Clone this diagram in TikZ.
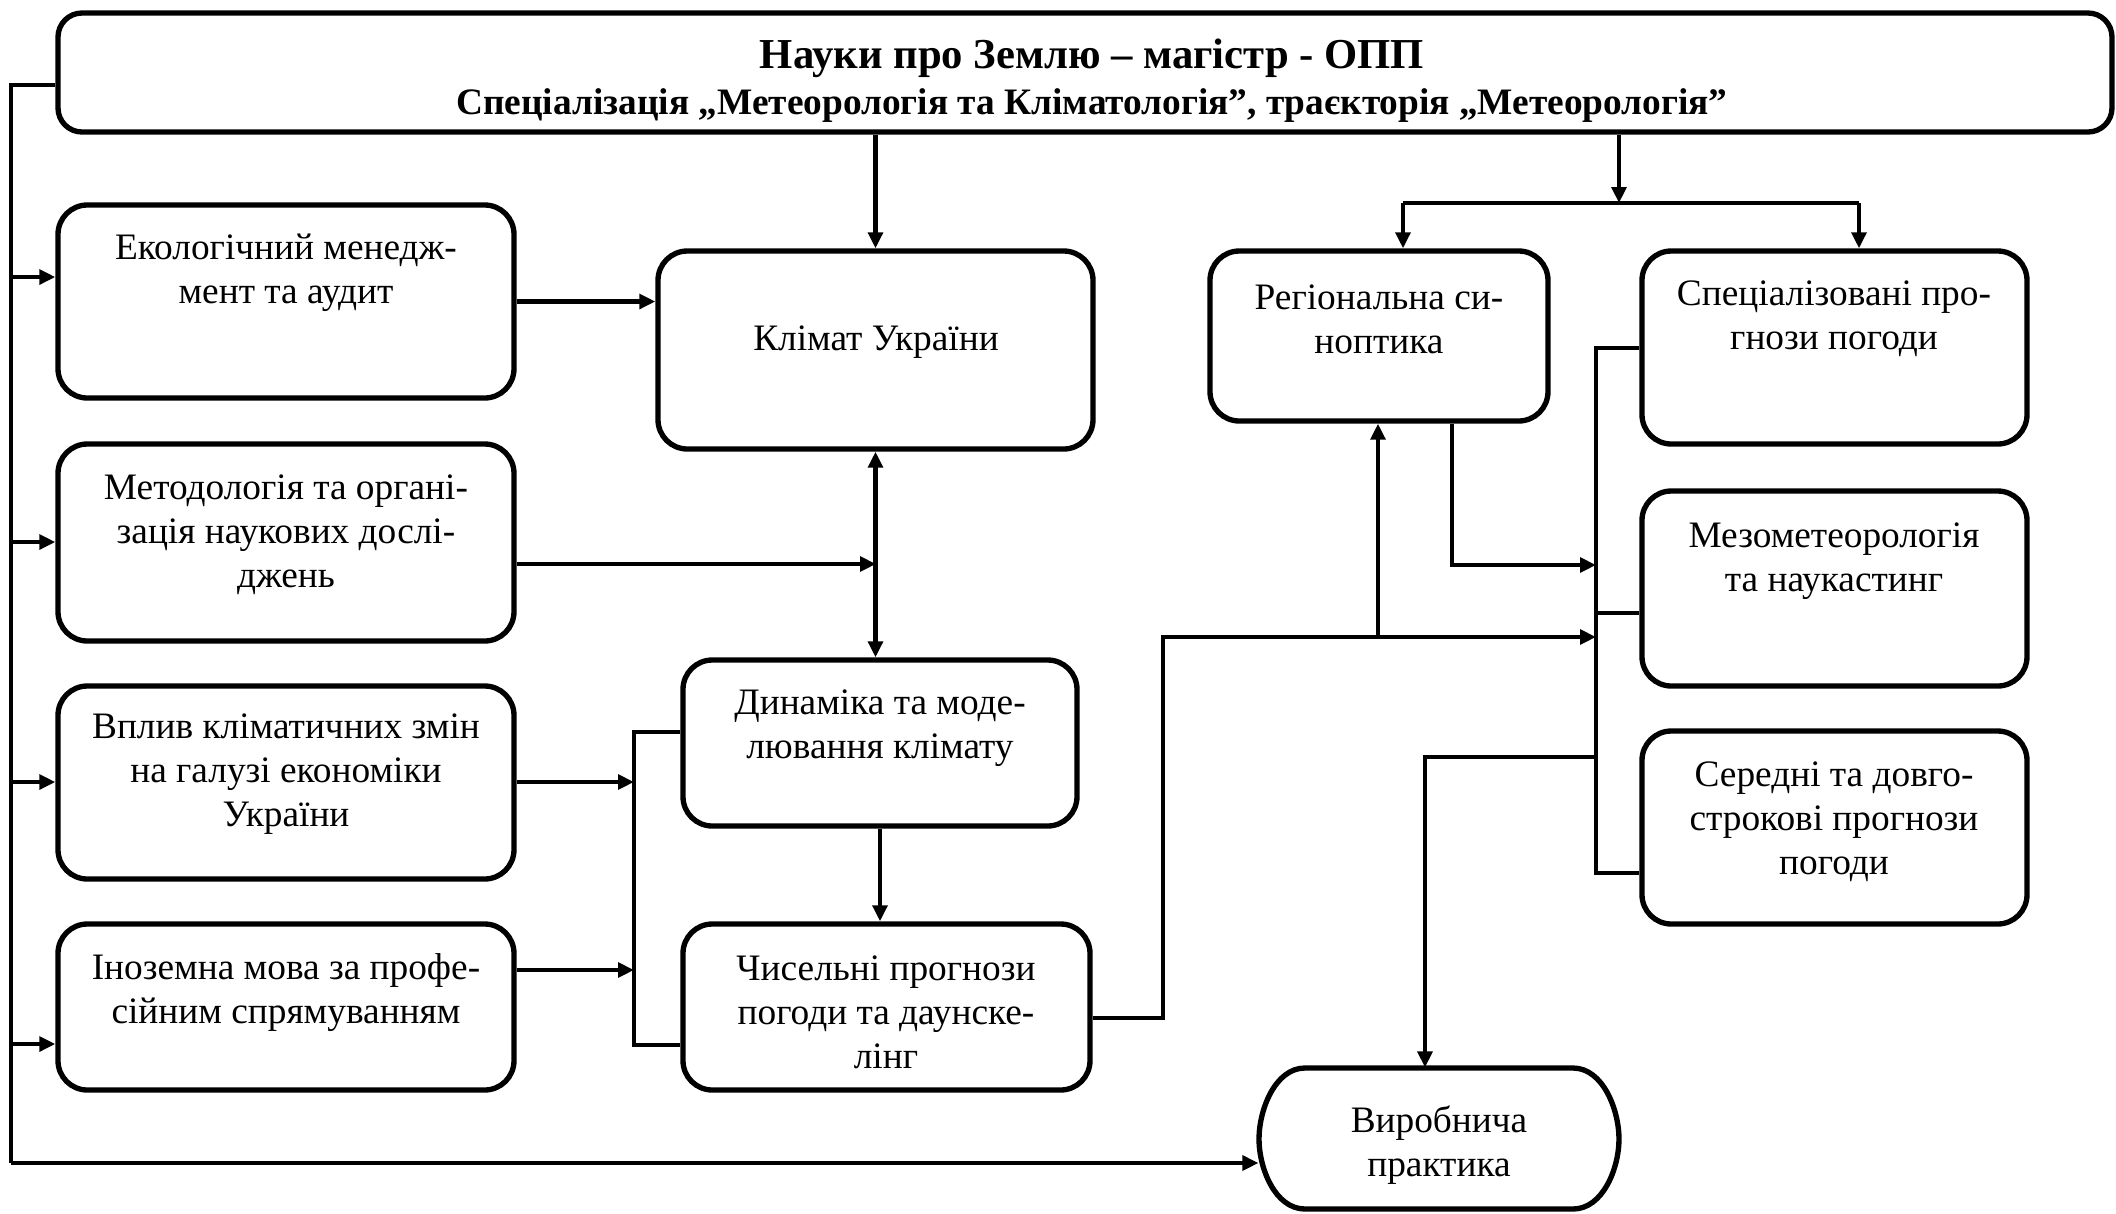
\documentclass[tikz,border=0pt]{standalone}
\usepackage{fontspec}
\setmainfont{Liberation Serif}
\usetikzlibrary{arrows.meta,fit,calc}
\begin{document}
\begin{tikzpicture}[x=0.375pt,y=-0.375pt,
  box/.style={draw,line width=2pt,rounded corners=11pt,inner sep=0pt},
  txt/.style={align=center,font=\fontsize{14}{16.5}\selectfont,inner sep=0pt},
  ln/.style={line width=1.7pt},
  arr/.style={ln,-{Triangle[length=6pt,width=5.5pt]}},
  arrb/.style={ln,{Triangle[length=6pt,width=5.5pt]}-{Triangle[length=6pt,width=5.5pt]}}]
\useasboundingbox (0,0) rectangle (2116,1213);

% top box
\node[box,rounded corners=9pt,fit={(58,13) (2112,132)}] (top) {};
\node[inner sep=0pt,font=\fontsize{16}{18}\selectfont\bfseries] (t1) at (1092,58) {Науки про Землю – магістр - ОПП};
\node[inner sep=0pt,font=\fontsize{14}{16}\selectfont\bfseries] (t2) at (1092,106) {Спеціалізація „Метеорологія та Кліматологія”, траєкторія „Метеорологія”};

% left column
\node[box,fit={(58,205) (514,398)}] (eco) {};
\node[txt] (ecoT) at (286,273) {Екологічний менедж-\\мент та аудит};
\node[box,fit={(58,444) (514,641)}] (meth) {};
\node[txt] (methT) at (286,535) {Методологія та органі-\\зація наукових дослі-\\джень};
\node[box,fit={(58,686) (514,879)}] (vpl) {};
\node[txt] (vplT) at (286,774) {Вплив кліматичних змін\\на галузі економіки\\України};
\node[box,fit={(58,924) (514,1090)}] (ino) {};
\node[txt] (inoT) at (286,993) {Іноземна мова за профе-\\сійним спрямуванням};

% middle column
\node[box,fit={(658,251) (1093,449)}] (klim) {};
\node[txt] (klimT) at (876,342) {Клімат України};
\node[box,fit={(683,660) (1077,826)}] (din) {};
\node[txt] (dinT) at (880,728) {Динаміка та моде-\\лювання клімату};
\node[box,fit={(683,924) (1090,1090)}] (chys) {};
\node[txt] (chysT) at (886,1012) {Чисельні прогнози\\погоди та даунске-\\лінг};

% right-middle
\node[box,fit={(1210,251) (1548,421)}] (reg) {};
\node[txt] (regT) at (1379,319) {Регіональна си-\\ноптика};
\node[inner sep=0pt,fit={(1259,1068) (1619,1209)}] (vyr) {};
\draw[line width=2pt] (1305,1068) -- (1573,1068)
  .. controls (1603,1068) and (1619,1110) .. (1619,1139)
  .. controls (1619,1168) and (1603,1209) .. (1573,1209)
  -- (1305,1209)
  .. controls (1275,1209) and (1259,1168) .. (1259,1139)
  .. controls (1259,1110) and (1275,1068) .. (1305,1068) -- cycle;
\node[txt] (vyrT) at (1439,1145) {Виробнича\\практика};

% right column
\node[box,fit={(1642,251) (2027,444)}] (spec) {};
\node[txt] (specT) at (1834,319) {Спеціалізовані про-\\гнози погоди};
\node[box,fit={(1642,491) (2027,686)}] (mezo) {};
\node[txt] (mezoT) at (1834,561) {Мезометеорологія\\та наукастинг};
\node[box,fit={(1642,731) (2027,924)}] (ser) {};
\node[txt] (serT) at (1834,822) {Середні та довго-\\строкові прогнози\\погоди};

% junction coordinates
\coordinate (L1) at (11,85);
\coordinate (L2) at (11,1163);
\coordinate (Le) at (11,277);
\coordinate (Lm) at (11,542);
\coordinate (Lv) at (11,782);
\coordinate (Li) at (11,1044);
\coordinate (spC) at (1619,203);
\coordinate (spL) at (1403,203);
\coordinate (spR) at (1859,203);
\coordinate (m1) at (876,564);
\coordinate (bT) at (634,732);
\coordinate (bB) at (634,1045);
\coordinate (bI) at (634,970);
\coordinate (bV) at (634,782);
\coordinate (c1) at (1163,1018);
\coordinate (c2) at (1163,637);
\coordinate (c3) at (1378,637);
\coordinate (r1) at (1452,565);
\coordinate (busT) at (1596,348);
\coordinate (busM) at (1596,613);
\coordinate (busB) at (1596,873);
\coordinate (v1) at (1596,757);
\coordinate (v2) at (1425,757);

% left bus
\draw[ln] (top.west |- L1) -- (L1) -- (L2);
\draw[arr] (L2) -- (L2 -| vyr.west);
\draw[arr] (Le) -- (Le -| eco.west);
\draw[arr] (Lm) -- (Lm -| meth.west);
\draw[arr] (Lv) -- (Lv -| vpl.west);
\draw[arr] (Li) -- (Li -| ino.west);

% top connections
\draw[arr] (top.south -| klim.north) -- (klim.north);
\draw[arr] (top.south -| spC) -- (spC);
\draw[ln] (spL) -- (spR);
\draw[arr] (spL) -- (spL |- reg.north);
\draw[arr] (spR) -- (spR |- spec.north);

% middle
\draw[arr] (eco.east) -- (eco.east -| klim.west);
\draw[arrb] (klim.south) -- (klim.south |- din.north);
\draw[arr] (meth.east |- m1) -- (m1);
\draw[ln] (din.west |- bT) -- (bT) -- (bB) -- (chys.west |- bB);
\draw[arr] (vpl.east |- bV) -- (bV);
\draw[arr] (ino.east |- bI) -- (bI);
\draw[arr] (din.south) -- (din.south |- chys.north);

% right part
\draw[ln] (chys.east |- c1) -- (c1) -- (c2) -- (c3);
\draw[arr] (c3) -- (c3 -| busT);
\draw[arr] (c3) -- (c3 |- reg.south);
\draw[arr] (r1 |- reg.south) -- (r1) -- (r1 -| busT);
\draw[ln] (spec.west |- busT) -- (busT) -- (busB) -- (ser.west |- busB);
\draw[ln] (busM) -- (busM -| mezo.west);
\draw[arr] (v1) -- (v2) -- (v2 |- vyr.north);
\end{tikzpicture}
\end{document}
